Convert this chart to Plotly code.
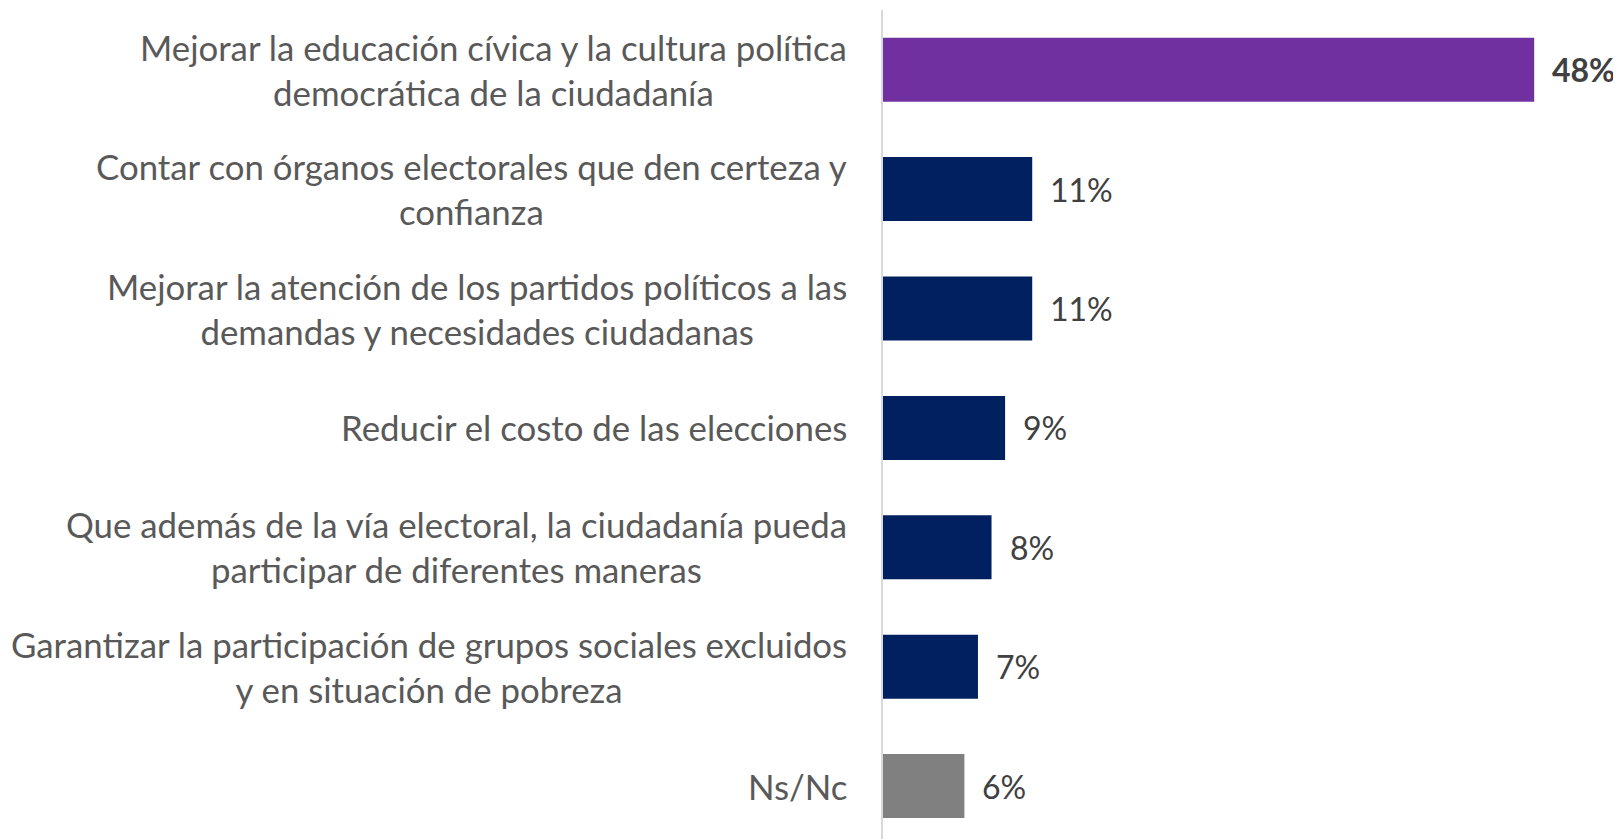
import plotly.graph_objects as go

categories = [
    "Mejorar la educación cívica y la cultura política<br>democrática de la ciudadanía",
    "Contar con órganos electorales que den certeza y<br>confianza",
    "Mejorar la atención de los partidos políticos a las<br>demandas y necesidades ciudadanas",
    "Reducir el costo de las elecciones",
    "Que además de la vía electoral, la ciudadanía pueda<br>participar de diferentes maneras",
    "Garantizar la participación de grupos sociales excluidos<br>y en situación de pobreza",
    "Ns/Nc",
]
values = [48, 11, 11, 9, 8, 7, 6]
colors = ["#7030A0", "#002060", "#002060", "#002060", "#002060", "#002060", "#808080"]

FONT = "Lato"
ypos = list(range(len(categories)))

fig = go.Figure()
fig.add_trace(go.Bar(
    x=values, y=ypos, orientation="h",
    marker=dict(color=colors, line=dict(width=0)),
    width=0.536, hoverinfo="skip",
))

for i, (cat, v) in enumerate(zip(categories, values)):
    fig.add_annotation(
        x=0, y=i, xref="x", yref="y", text=cat, showarrow=False,
        xanchor="right", yanchor="middle", align="center", xshift=-34,
        font=dict(family=FONT, size=34.8, color="#595959"),
    )
    txt = f"{v}%"
    if i == 0:
        txt = f"<b>{txt}</b>"
    fig.add_annotation(
        x=v, y=i, xref="x", yref="y", text=txt, showarrow=False,
        xanchor="left", yanchor="middle", xshift=16,
        font=dict(family=FONT, size=32, color="#404040"),
    )

# page body has an 8px margin; figure is sized/offset to compensate
fig.update_layout(
    width=1613, height=831,
    margin=dict(l=875, r=0, t=2, b=0),
    plot_bgcolor="white", paper_bgcolor="white",
    showlegend=False,
    xaxis=dict(range=[0, 54.4], visible=False, fixedrange=True),
    yaxis=dict(range=[6.443, -0.5], showticklabels=False, showgrid=False,
               zeroline=False, showline=True, linecolor="#D9D9D9", linewidth=2,
               ticks=""),
)

fig.write_html("out.html")
